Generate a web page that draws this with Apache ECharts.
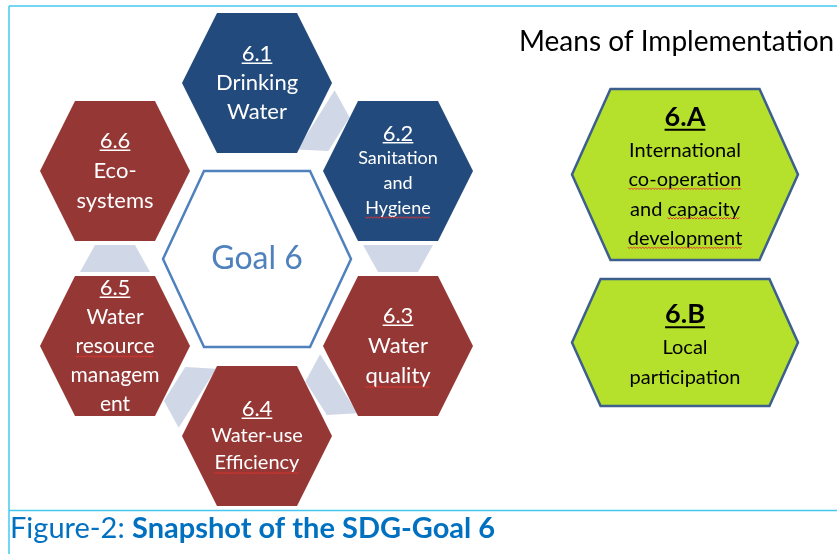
<!DOCTYPE html>
<html>
<head>
<meta charset="utf-8">
<script src="https://cdn.jsdelivr.net/npm/echarts@6/dist/echarts.min.js"></script>
<style>
  html, body { margin: 0; padding: 0; background: #fff; }
  #main { width: 837px; height: 554px; }
</style>
</head>
<body>
<div id="main"></div>
<script>
// targets of SDG 6, clockwise from the top
const goalIds = ['6.1', '6.2', '6.3', '6.4', '6.5', '6.6']
const goalLines = [
  ['Drinking', 'Water'],
  ['Sanitation', 'and', 'Hygiene'],
  ['Water', 'quality'],
  ['Water-use', 'Efficiency'],
  ['Water', 'resource', 'managem', 'ent'],
  ['Eco-', 'systems']
]
const goalGroup = ['blue', 'blue', 'red', 'red', 'red', 'red']
// hexagon centres on the drawing plane
const goalX = [257, 398, 398, 257, 115, 115]
const goalY = [83, 171, 346, 436, 346, 171]
// words with a spell-check squiggle: [target, line]
const goalSpell = [[1, 3], [2, 2], [3, 2], [4, 2]]
// chain links between neighbouring targets
const links = [[0, 1], [1, 2], [2, 3], [3, 4], [4, 5]]

const centreLabel = 'Goal 6'
const centreX = [257]
const centreY = [259]

// means of implementation
const meansTitle = 'Means of Implementation'
const meansIds = ['6.A', '6.B']
const meansLines = [
  ['International', 'co-operation', 'and capacity', 'development'],
  ['Local', 'participation']
]
const meansX = [685, 685]
const meansY = [174.5, 342.5]
const meansSpell = [[0, 2, 'co-operation'], [0, 3, 'capacity'], [0, 4, 'development']]

const captionA = 'Figure-2: '
const captionB = 'Snapshot of the SDG-Goal 6'

const FONT = 'Lato, "Open Sans", sans-serif'
const colors = { blue: '#234a7c', red: '#943735' }
const goalFont = [22, 18, 22, 20, 21, 22]
const goalLineH = [29, 25, 30, 27, 29, 30]
const meansHalfH = [85.5, 63.5]

const measure = document.createElement('canvas').getContext('2d')
function textWidth(t, font) {
  measure.font = font
  return measure.measureText(t).width
}

function hexPoints(cx, cy, hw, hh, slant) {
  return [
    [cx - hw, cy], [cx - hw + slant, cy - hh], [cx + hw - slant, cy - hh],
    [cx + hw, cy], [cx + hw - slant, cy + hh], [cx - hw + slant, cy + hh]
  ]
}

function squiggle(x1, x2, y) {
  const pts = []
  let up = true
  for (let x = x1; x <= x2; x += 1.5) {
    pts.push([x, y + (up ? -0.8 : 0.8)])
    up = !up
  }
  return { type: 'polyline', z2: 5, shape: { points: pts }, style: { stroke: '#e8342c', lineWidth: 0.9, fill: null } }
}

function renderLink(params, api) {
  const a = api.coord([api.value(0), api.value(1)])
  const b = api.coord([api.value(2), api.value(3)])
  const dx = b[0] - a[0]
  const dy = b[1] - a[1]
  const len = Math.sqrt(dx * dx + dy * dy)
  const u = [dx / len, dy / len]
  const n = [-u[1], u[0]]
  const m = [(a[0] + b[0]) / 2, (a[1] + b[1]) / 2]
  const depth = 13.5
  const wide = 35
  const narrow = 20
  const w0 = [m[0] - u[0] * depth, m[1] - u[1] * depth]
  const w1 = [m[0] + u[0] * depth, m[1] + u[1] * depth]
  return {
    type: 'polygon',
    shape: {
      points: [
        [w0[0] + n[0] * wide, w0[1] + n[1] * wide],
        [w0[0] - n[0] * wide, w0[1] - n[1] * wide],
        [w1[0] - n[0] * narrow, w1[1] - n[1] * narrow],
        [w1[0] + n[0] * narrow, w1[1] + n[1] * narrow]
      ]
    },
    style: { fill: '#d0d7e6' }
  }
}

function renderGoal(params, api) {
  const i = api.value(2)
  const c = api.coord([api.value(0), api.value(1)])
  const s = api.size([75, 70])
  const children = [{
    type: 'polygon',
    shape: { points: hexPoints(c[0], c[1], s[0], s[1], s[1] * 0.5) },
    style: { fill: colors[goalGroup[i]] }
  }]
  const lines = [goalIds[i]].concat(goalLines[i])
  const lh = goalLineH[i]
  const y0 = c[1] - (lines.length - 1) * lh / 2
  lines.forEach((t, k) => {
    const fs = k === 0 ? 22 : goalFont[i]
    const font = fs + 'px ' + FONT
    const y = y0 + k * lh
    children.push({
      type: 'text',
      style: { text: t, x: c[0], y: y, align: 'center', verticalAlign: 'middle', fill: '#fff', font: font }
    })
    const w = textWidth(t, font)
    if (k === 0) {
      children.push({
        type: 'line',
        shape: { x1: c[0] - w / 2, y1: y + fs * 0.42, x2: c[0] + w / 2, y2: y + fs * 0.42 },
        style: { stroke: '#fff', lineWidth: 1.5 }
      })
    }
    goalSpell.forEach(sp => {
      if (sp[0] === i && sp[1] === k) children.push(squiggle(c[0] - w / 2, c[0] + w / 2, y + fs * 0.5))
    })
  })
  return { type: 'group', children: children }
}

function renderCentre(params, api) {
  const c = api.coord([api.value(0), api.value(1)])
  const s = api.size([94, 88])
  return {
    type: 'group',
    children: [{
      type: 'polygon',
      shape: { points: hexPoints(c[0], c[1], s[0], s[1], s[1] * 0.466) },
      style: { fill: '#fff', stroke: '#4f81bd', lineWidth: 2.5 }
    }, {
      type: 'text',
      style: { text: centreLabel, x: c[0], y: c[1], align: 'center', verticalAlign: 'middle', fill: '#4f81bd', font: '32px ' + FONT }
    }]
  }
}

function renderMeans(params, api) {
  const i = api.value(2)
  const c = api.coord([api.value(0), api.value(1)])
  const s = api.size([113, meansHalfH[i]])
  const children = [{
    type: 'polygon',
    shape: { points: hexPoints(c[0], c[1], s[0], s[1], s[1] * 0.45) },
    style: { fill: '#b5e02c', stroke: '#3d5f8e', lineWidth: 2.5 }
  }]
  const lines = meansLines[i]
  const lh = 29.5
  const total = 33 + (lines.length - 1) * lh
  const y0 = c[1] + 3.5 - total / 2
  const tFont = 'bold 27px ' + FONT
  const tw = textWidth(meansIds[i], tFont)
  children.push({
    type: 'text',
    style: { text: meansIds[i], x: c[0], y: y0, align: 'center', verticalAlign: 'middle', fill: '#000', font: tFont }
  }, {
    type: 'line',
    shape: { x1: c[0] - tw / 2, y1: y0 + 12.5, x2: c[0] + tw / 2, y2: y0 + 12.5 },
    style: { stroke: '#000', lineWidth: 2 }
  })
  lines.forEach((t, k) => {
    const font = '20px ' + FONT
    const y = y0 + 33 + k * lh
    children.push({
      type: 'text',
      style: { text: t, x: c[0], y: y, align: 'center', verticalAlign: 'middle', fill: '#000', font: font }
    })
    meansSpell.forEach(sp => {
      if (sp[0] === i && sp[1] === k + 1) {
        const full = textWidth(t, font)
        const start = c[0] - full / 2 + textWidth(t.slice(0, t.indexOf(sp[2])), font)
        children.push(squiggle(start, start + textWidth(sp[2], font), y + 9))
      }
    })
  })
  return { type: 'group', children: children }
}

const chart = echarts.init(document.getElementById('main'))
chart.setOption({
  animation: false,
  grid: { left: 0, right: 0, top: 0, bottom: 0 },
  xAxis: { type: 'value', min: 0, max: 837, show: false },
  yAxis: { type: 'value', min: 0, max: 554, inverse: true, show: false },
  graphic: [
    { type: 'line', shape: { x1: 9, y1: 6, x2: 837, y2: 6 }, style: { stroke: '#45c8f0', lineWidth: 1.5 } },
    { type: 'line', shape: { x1: 9, y1: 6, x2: 9, y2: 554 }, style: { stroke: '#45c8f0', lineWidth: 1.5 } },
    { type: 'line', shape: { x1: 9, y1: 510.5, x2: 837, y2: 510.5 }, style: { stroke: '#45c8f0', lineWidth: 1.5 } },
    {
      type: 'text', left: 519, top: 28,
      style: { text: meansTitle, fill: '#000', font: '28px ' + FONT }
    },
    {
      type: 'text', left: 10, top: 514,
      style: {
        text: '{a|' + captionA + '}{b|' + captionB + '}',
        rich: {
          a: { fill: '#0070c0', font: '29px ' + FONT },
          b: { fill: '#0070c0', font: 'bold 29px ' + FONT }
        }
      }
    }
  ],
  series: [
    {
      type: 'custom',
      renderItem: renderLink,
      data: links.map(l => [goalX[l[0]], goalY[l[0]], goalX[l[1]], goalY[l[1]]]),
      z: 1
    },
    {
      type: 'custom',
      renderItem: renderGoal,
      data: goalIds.map((id, i) => [goalX[i], goalY[i], i]),
      z: 2
    },
    {
      type: 'custom',
      renderItem: renderCentre,
      data: centreX.map((x, i) => [x, centreY[i]]),
      z: 2
    },
    {
      type: 'custom',
      renderItem: renderMeans,
      data: meansIds.map((id, i) => [meansX[i], meansY[i], i]),
      z: 2
    }
  ]
})
</script>
</body>
</html>
